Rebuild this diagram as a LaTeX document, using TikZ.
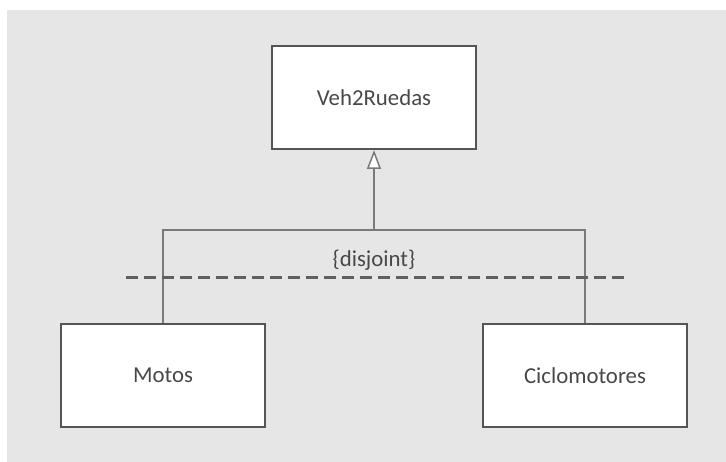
\documentclass[tikz,border=0pt]{standalone}
\usepackage{fontspec}
\setmainfont{Carlito}
\usetikzlibrary{arrows.meta}
\definecolor{panel}{HTML}{E6E6E6}
\definecolor{boxline}{HTML}{555555}
\definecolor{linkline}{HTML}{7A7A7A}
\definecolor{dashline}{HTML}{606060}
\definecolor{labeltext}{HTML}{484848}
\tikzset{
  classbox/.style={draw=boxline, line width=2pt, fill=white,
    minimum width=204pt, minimum height=103pt, inner sep=0pt,
    text=labeltext, font=\fontsize{22.8}{26}\selectfont},
  link/.style={draw=linkline, line width=1.5pt},
  inherit/.style={link, -{Triangle[width=14pt,length=19pt,fill=white]}},
  constraint/.style={draw=dashline, line width=3pt, dash pattern=on 12pt off 6pt},
  note/.style={text=labeltext, font=\fontsize{22.8}{26}\selectfont, inner sep=0pt}
}
\begin{document}
\begin{tikzpicture}[x=1pt,y=-1pt]
  \useasboundingbox (0,0) rectangle (726,462);
  \fill[white] (0,0) rectangle (726,462);
  \fill[panel] (7,10) rectangle (726,462);

  % classes
  \node[classbox] (veh) at (374,97.5) {Veh2Ruedas};
  \node[classbox] (motos) at (163,375.3) {Motos};
  \node[classbox] (ciclo) at (585,375.3) {Ciclomotores};

  % generalisation tree
  \coordinate (join) at (374,230);
  \draw[inherit] (join) -- (veh.south);
  \draw[link] (motos.north) |- (join) -| (ciclo.north);

  % disjoint constraint
  \coordinate (cl) at (126,278);
  \coordinate (cr) at (627,278);
  \draw[constraint] (cl) -- (cr);
  \node[note] (disj) at (374,260) {\{disjoint\}};
\end{tikzpicture}
\end{document}
